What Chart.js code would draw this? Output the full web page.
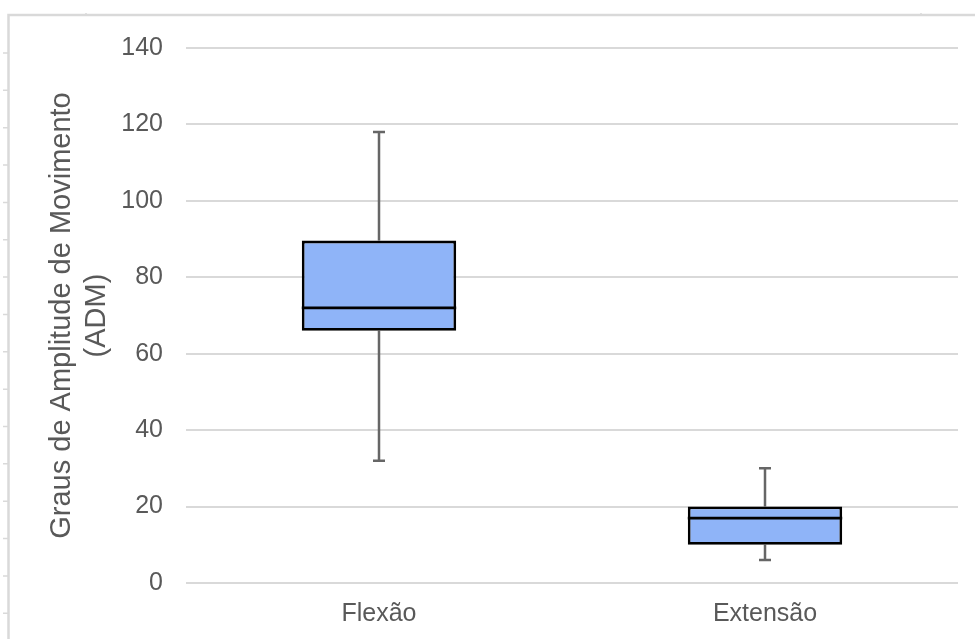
<!DOCTYPE html>
<html>
<head>
<meta charset="utf-8">
<script src="https://cdn.jsdelivr.net/npm/chart.js@4.4.1/dist/chart.umd.min.js"></script>
<style>
html,body{margin:0;padding:0;background:#fff;}
#wrap{width:975px;height:639px;position:relative;}
</style>
</head>
<body>
<div id="wrap"><canvas id="c" width="975" height="639"></canvas></div>
<script>
const categories = ["Flexão", "Extensão"];
const minValues = [32, 6];
const q1Values = [66, 10];
const medianValues = [72, 17];
const q3Values = [89.6, 20];
const maxValues = [118, 30];
const yTicks = [0, 20, 40, 60, 80, 100, 120, 140];

const FONT = "'Liberation Sans', Arial, sans-serif";
const TEXT = '#595959';

const framePlugin = {
  id: 'frame',
  beforeDraw(chart) {
    const ctx = chart.ctx;
    ctx.save();
    ctx.fillStyle = '#fff';
    ctx.fillRect(0, 0, chart.width, chart.height);
    ctx.strokeStyle = '#d9d9d9';
    ctx.lineWidth = 2.5;
    ctx.beginPath();
    ctx.moveTo(8.5, chart.height);
    ctx.lineTo(8.5, 15);
    ctx.lineTo(chart.width, 15);
    ctx.stroke();
    ctx.lineWidth = 1.5;
    ctx.beginPath();
    for (let i = 0; i < 16; i++) {
      const y = 53 + i * 37.35;
      ctx.moveTo(3, y); ctx.lineTo(8, y);
    }
    ctx.moveTo(86, 15); ctx.lineTo(86, 13);
    ctx.moveTo(921, 15); ctx.lineTo(921, 13);
    ctx.stroke();
    ctx.restore();
  }
};

const boxPlugin = {
  id: 'boxplot',
  beforeDatasetsDraw(chart) {
    const ctx = chart.ctx;
    const x = chart.scales.x, y = chart.scales.y;
    ctx.save();
    ctx.strokeStyle = '#666666';
    ctx.lineWidth = 2.5;
    categories.forEach((c, i) => {
      const cx = x.getPixelForValue(i);
      const yMin = y.getPixelForValue(minValues[i]);
      const yMax = y.getPixelForValue(maxValues[i]);
      const yQ1 = y.getPixelForValue(q1Values[i]);
      const yQ3 = y.getPixelForValue(q3Values[i]);
      ctx.beginPath();
      ctx.moveTo(cx, yQ3); ctx.lineTo(cx, yMax);
      ctx.moveTo(cx - 6, yMax); ctx.lineTo(cx + 6, yMax);
      ctx.moveTo(cx, yQ1); ctx.lineTo(cx, yMin);
      ctx.moveTo(cx - 6, yMin); ctx.lineTo(cx + 6, yMin);
      ctx.stroke();
    });
    ctx.restore();
  },
  afterDatasetsDraw(chart) {
    const ctx = chart.ctx;
    const y = chart.scales.y;
    const meta = chart.getDatasetMeta(0);
    ctx.save();
    ctx.strokeStyle = '#000';
    ctx.lineWidth = 2.8;
    meta.data.forEach((bar, i) => {
      const half = bar.width / 2;
      const ym = y.getPixelForValue(medianValues[i]);
      ctx.beginPath();
      ctx.moveTo(bar.x - half, ym);
      ctx.lineTo(bar.x + half, ym);
      ctx.stroke();
    });
    ctx.restore();
  }
};

new Chart(document.getElementById('c'), {
  type: 'bar',
  data: {
    labels: categories,
    datasets: [{
      data: categories.map((c, i) => [q1Values[i], q3Values[i]]),
      backgroundColor: '#8fb4f8',
      borderColor: '#000',
      borderWidth: 2.8,
      borderSkipped: false,
      barPercentage: 0.4,
      categoryPercentage: 1.0
    }]
  },
  options: {
    responsive: false,
    animation: false,
    devicePixelRatio: 1,
    layout: { padding: { left: 0, right: 17, top: 48, bottom: 0 } },
    plugins: { legend: { display: false }, tooltip: { enabled: false } },
    scales: {
      x: {
        grid: { display: false, drawTicks: false },
        border: { display: false },
        ticks: { color: TEXT, font: { family: FONT, size: 25 }, padding: 16 },
        afterFit(s) { s.height = 56; }
      },
      y: {
        min: 0, max: 140,
        afterBuildTicks(s) { s.ticks = yTicks.map(v => ({ value: v })); },
        grid: { color: '#d9d9d9', lineWidth: 2, drawTicks: false },
        border: { display: false },
        ticks: { color: TEXT, font: { family: FONT, size: 25 }, padding: 23 },
        title: {
          display: true,
          text: ['Graus de Amplitude de Movimento', '(ADM)'],
          color: TEXT,
          font: { family: FONT, size: 29 },
          padding: { top: 45, bottom: 0 }
        },
        afterFit(s) { s.width = 186; }
      }
    }
  },
  plugins: [framePlugin, boxPlugin]
});
</script>
</body>
</html>
